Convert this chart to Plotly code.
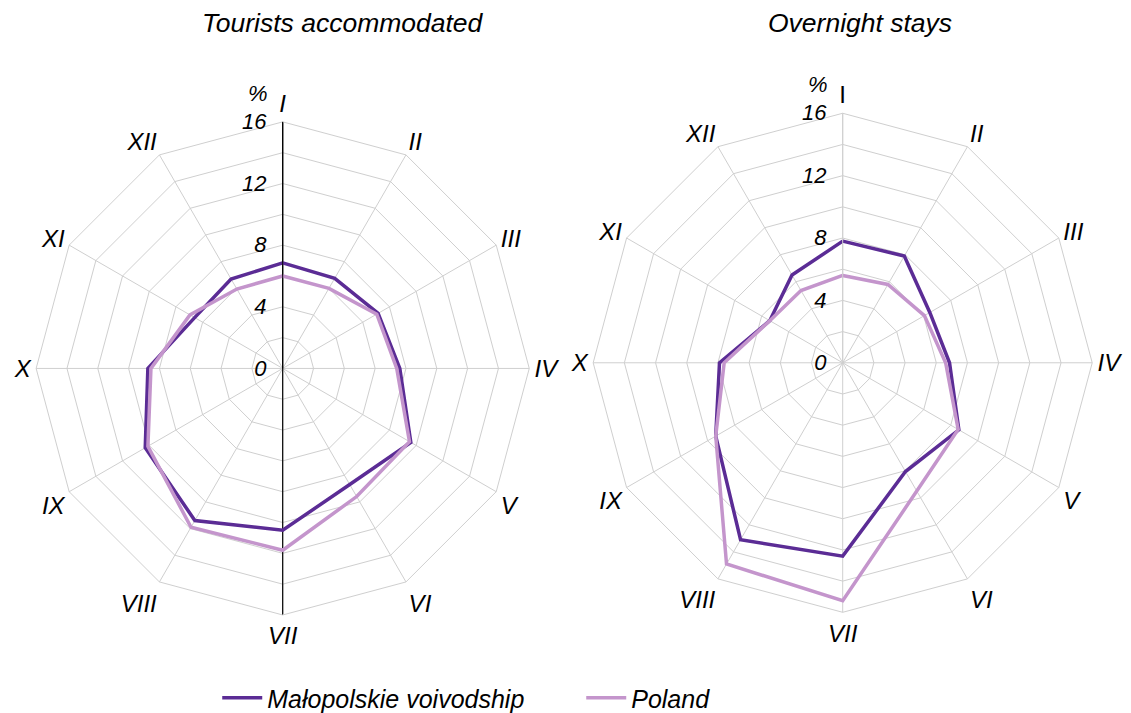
import plotly.graph_objects as go

months = ["I", "II", "III", "IV", "V", "VI", "VII", "VIII", "IX", "X", "XI", "XII"]

tourists_malopolskie = [6.85, 6.75, 7.15, 7.6, 9.6, 8.7, 10.5, 11.4, 10.3, 8.75, 6.6, 6.7]
tourists_poland = [6.0, 6.0, 7.05, 7.4, 9.5, 9.6, 11.8, 11.9, 10.1, 8.55, 6.95, 5.95]

nights_malopolskie = [7.8, 7.9, 6.45, 6.85, 8.6, 8.05, 12.4, 13.1, 9.4, 7.9, 5.4, 6.5]
nights_poland = [5.6, 5.8, 6.05, 6.6, 8.55, 9.5, 15.25, 14.9, 9.4, 7.6, 5.4, 5.35]

radial_ticks = [0, 2, 4, 6, 8, 10, 12, 14, 16]
radial_text = ["0", "", "4", "", "8", "", "12", "", "16"]

titles = ["Tourists accommodated", "Overnight stays"]
series_names = ["Małopolskie voivodship", "Poland"]

DARK = "#5B2C95"
LIGHT = "#C495CC"
GRID = "#CFCFCF"
FONT = "Liberation Sans, Arial, sans-serif"

W, H = 1131, 713
DX, DY = -8, -7  # pixel correction for page offset

fig = go.Figure()

# Black vertical axis through the left chart (I to VII)
fig.add_trace(go.Scatterpolar(
    r=[16, 16], theta=["I", "VII"], mode="lines",
    line=dict(color="black", width=1.2), showlegend=False,
    hoverinfo="skip", subplot="polar"))

for sub, mal, pol in [("polar", tourists_malopolskie, tourists_poland),
                      ("polar2", nights_malopolskie, nights_poland)]:
    show = sub == "polar"
    fig.add_trace(go.Scatterpolar(
        r=mal + [mal[0]], theta=months + [months[0]], mode="lines",
        name=series_names[0], line=dict(color=DARK, width=3.5),
        showlegend=show, subplot=sub))
    fig.add_trace(go.Scatterpolar(
        r=pol + [pol[0]], theta=months + [months[0]], mode="lines",
        name=series_names[1], line=dict(color=LIGHT, width=3.5),
        showlegend=show, subplot=sub))


def dom(cx, cy, rad):
    cx += DX
    cy += DY
    return ([(cx - rad) / W, (cx + rad) / W],
            [(H - cy - rad) / H, (H - cy + rad) / H])


def polar_layout(d, axis_color, ang_text, ang_style):
    return dict(
        domain=dict(x=d[0], y=d[1]),
        gridshape="linear",
        bgcolor="white",
        radialaxis=dict(
            range=[0, 16], tickvals=radial_ticks, ticktext=radial_text,
            angle=90, side="counterclockwise", tickangle=90,
            showline=True, linecolor=axis_color, linewidth=1,
            gridcolor=GRID, gridwidth=1,
            ticks="outside", ticklen=8, tickcolor="rgba(0,0,0,0)",
            tickfont=dict(family=FONT, size=22, color="black", style="italic"),
        ),
        angularaxis=dict(
            direction="clockwise", rotation=90,
            categoryorder="array", categoryarray=months,
            tickmode="array", tickvals=months, ticktext=ang_text,
            showline=True, linecolor=GRID, linewidth=1,
            gridcolor=GRID, gridwidth=1, ticks="",
            tickfont=dict(family=FONT, size=24, color="black", style=ang_style),
        ),
    )


right_text = ["I"] + ["<i>%s</i>" % m for m in months[1:]]


def ann(text, x, y, size):
    return dict(text=text, x=(x + DX) / W, y=1 - (y + DY) / H,
                xref="paper", yref="paper",
                xanchor="center", yanchor="middle", showarrow=False,
                font=dict(family=FONT, size=size, style="italic", color="black"))


fig.update_layout(
    width=W, height=H,
    paper_bgcolor="white", plot_bgcolor="white",
    margin=dict(l=0, r=0, t=0, b=0),
    font=dict(family=FONT, color="black"),
    polar=polar_layout(dom(282.7, 371, 249), "black", months, "italic"),
    polar2=polar_layout(dom(842.7, 365.3, 252), GRID, right_text, "normal"),
    legend=dict(
        orientation="h", x=0.185, y=-0.01, xanchor="left", yanchor="bottom",
        font=dict(family=FONT, size=25, style="italic", color="black"),
        itemwidth=40, entrywidth=309, bgcolor="rgba(0,0,0,0)",
    ),
    annotations=[
        ann(titles[0], 343, 22, 26.5),
        ann(titles[1], 860, 22, 26.5),
        ann("%", 258, 93, 22),
        ann("%", 818, 84, 22),
    ],
)

fig.write_html("out.html")
